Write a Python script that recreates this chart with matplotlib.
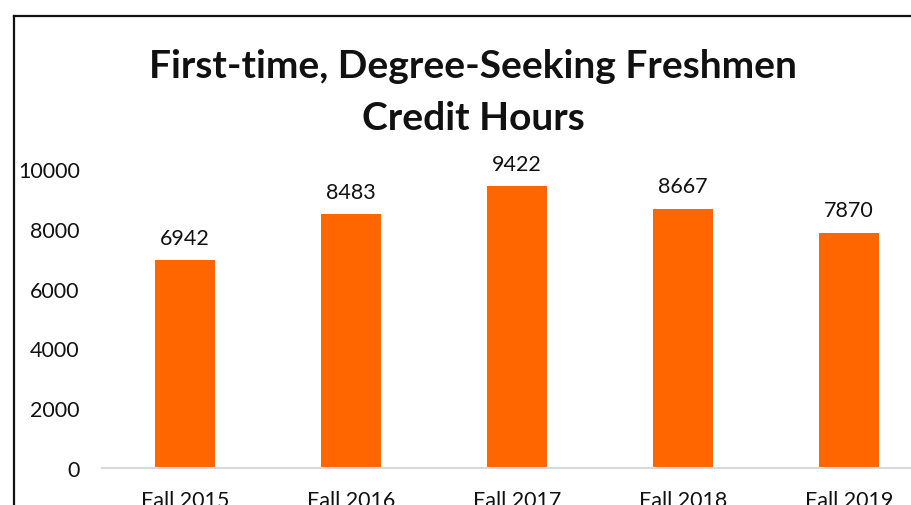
import matplotlib
matplotlib.use("Agg")
import matplotlib.pyplot as plt
from matplotlib.lines import Line2D

plt.rcParams['font.family'] = ['Lato', 'DejaVu Sans']

terms = ['Fall 2015', 'Fall 2016', 'Fall 2017', 'Fall 2018', 'Fall 2019']
credit_hours = [6942, 8483, 9422, 8667, 7870]
yticks = [0, 2000, 4000, 6000, 8000, 10000]

W, H = 912, 506
fig = plt.figure(figsize=(W / 100, H / 100), dpi=100)

# axes runs past the right edge, like the cropped original
ax = fig.add_axes([102 / W, 37 / H, 830 / W, 299 / H])
x = range(len(terms))
ax.bar(x, credit_hours, width=0.36, color='#ff6600')
for xi, v in zip(x, credit_hours):
    ax.text(xi, v + 420, str(v), ha='center', va='bottom', fontsize=15.5, color='#111111')

ax.set_xlim(-0.5, len(terms) - 0.5)
ax.set_ylim(0, 10000)
ax.set_yticks(yticks)
ax.set_yticklabels([str(t) for t in yticks], fontsize=15.5, color='#111111')
ax.set_xticks(list(x))
ax.set_xticklabels(terms, fontsize=15.5, color='#111111')
ax.tick_params(length=0, axis='y', pad=16)
ax.tick_params(length=0, axis='x', pad=16)
for s in ['top', 'right', 'left']:
    ax.spines[s].set_visible(False)
ax.spines['bottom'].set_color('#d9d9d9')
ax.spines['bottom'].set_linewidth(1.5)

fig.text(473 / W, 1 - 67 / H, 'First-time, Degree-Seeking Freshmen', ha='center', va='center',
         fontsize=28, fontweight='bold', color='#111111')
fig.text(473 / W, 1 - 119 / H, 'Credit Hours', ha='center', va='center',
         fontsize=28, fontweight='bold', color='#111111')

# chart-area border (cropped on right and bottom)
fig.add_artist(Line2D([14 / W, 14 / W], [0, 1 - 17 / H], transform=fig.transFigure, color='#111111', lw=1.6))
fig.add_artist(Line2D([14 / W, 1], [1 - 17 / H, 1 - 17 / H], transform=fig.transFigure, color='#111111', lw=1.6))

fig.savefig('out.png', dpi=100)
